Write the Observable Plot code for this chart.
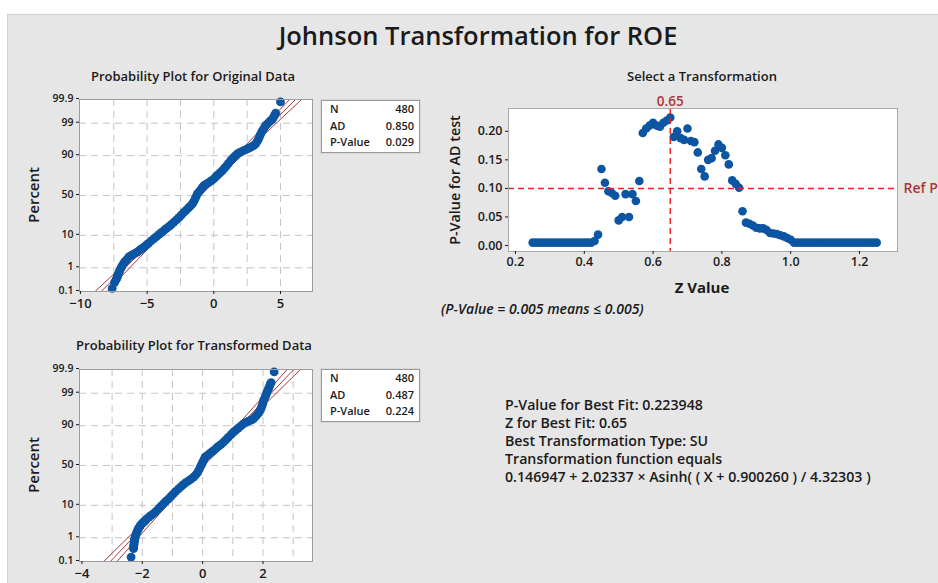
<!DOCTYPE html>
<html><head><meta charset="utf-8">
<script src="https://cdn.jsdelivr.net/npm/d3@7"></script>
<script src="https://cdn.jsdelivr.net/npm/@observablehq/plot@0.6"></script>
<style>
html,body{margin:0;padding:0;background:#fff;}
#root{position:relative;width:938px;height:583px;overflow:hidden;font-family:"Open Sans",sans-serif;color:#1a1a1a;}
#panel{position:absolute;left:7px;top:14px;width:960px;height:600px;background:#e6e6e6;border-top:1px solid #cfcfcf;border-left:1px solid #d4d4d4;}
.abs{position:absolute;white-space:nowrap;line-height:1;}
.ctr{transform:translate(-50%,-50%);}
.rot{transform:translate(-50%,-50%) rotate(-90deg);}
.box{position:absolute;background:#fff;border:1px solid #9a9a9a;box-shadow:0 0 0 1px #d8d8d8;font-size:11px;font-weight:600;line-height:1;}
.box .row{position:absolute;left:8px;right:5px;display:flex;justify-content:space-between;}
svg{position:absolute;overflow:visible;}
</style></head>
<body><div id="root"><div id="panel"></div></div>
<script>
// ---------- data ----------
const mainTitle = "Johnson Transformation for ROE";
const tickPct = [0.1, 1, 10, 50, 90, 99, 99.9];
const tickPctLabels = ["0.1", "1", "10", "50", "90", "99", "99.9"];

// Probability plot, original data (value, percent) read along the plotted band
const origX =   [-7.62,-7.45,-7.35,-7.29,-7.24,-7.20,-7.15,-7.11,-7.05,-7.00,-6.93,-6.86,-6.76,-6.65,-6.50,-6.37,-6.20,-6.05,-5.90,-5.74,-5.62,-5.50,-5.37,-5.24,-5.07,-4.90,-4.70,-4.49,-4.30,-4.10,-3.92,-3.74,-3.55,-3.35,-3.17,-2.99,-2.80,-2.60,-2.42,-2.24,-2.07,-1.90,-1.75,-1.61,-1.52,-1.42,-1.33,-1.24,-1.12,-1.00,-0.87,-0.74,-0.55,-0.35,-0.17,0.01,0.16,0.32,0.48,0.64,0.80,0.95,1.10,1.26,1.38,1.50,1.63,1.76,1.93,2.10,2.30,2.51,2.68,2.85,3.00,3.14,3.25,3.35,3.43,3.51,3.60,3.70,3.80,3.89,4.02,4.15,4.27,4.39,4.48,4.55,4.64,5.00];
const origPct = [0.14,0.25,0.32,0.37,0.44,0.50,0.58,0.68,0.78,0.90,1.05,1.2,1.45,1.7,2.0,2.4,2.65,2.9,3.15,3.4,3.75,4.1,4.45,4.8,5.5,6.2,7.2,8.2,9.3,10.5,11.7,13,14.5,16,17.7,19.5,21.7,24,26.7,29.5,32,34.5,37,39.4,42,45,48.5,52,54.5,57,60,62.6,64.5,66.5,68.5,70.5,72.8,75,77,78.9,81,83,85,87,88,89,90,91,91.6,92.2,92.8,93.3,93.7,94.2,94.7,95.2,95.9,96.5,97.1,97.6,98.0,98.3,98.6,98.8,98.95,99.1,99.2,99.3,99.42,99.5,99.6,99.87];
const origFit   = [-8.45,-6.65,-4.18,-1.16,1.86,4.33,6.13];
const origLower = [-8.90,-7.00,-4.40,-1.31,1.64,3.98,5.68];
const origUpper = [-8.00,-6.30,-3.96,-1.01,2.08,4.68,6.58];
const origStats = ["480", "0.850", "0.029"];

// Probability plot, transformed data (value, percent)
const transX =   [-2.37,-2.29,-2.285,-2.28,-2.275,-2.27,-2.26,-2.25,-2.245,-2.24,-2.22,-2.20,-2.18,-2.16,-2.13,-2.09,-2.06,-2.02,-1.97,-1.93,-1.89,-1.85,-1.78,-1.71,-1.64,-1.57,-1.50,-1.43,-1.37,-1.30,-1.22,-1.13,-1.05,-0.97,-0.89,-0.80,-0.72,-0.64,-0.56,-0.47,-0.39,-0.30,-0.23,-0.17,-0.12,-0.08,-0.04,0.00,0.04,0.08,0.15,0.22,0.29,0.36,0.44,0.52,0.61,0.69,0.77,0.85,0.94,1.02,1.10,1.18,1.27,1.35,1.44,1.52,1.60,1.68,1.74,1.80,1.86,1.91,1.94,1.97,2.00,2.02,2.05,2.08,2.11,2.13,2.16,2.19,2.22,2.24,2.27,2.37];
const transPct = [0.16,0.37,0.44,0.50,0.57,0.65,0.75,0.85,0.95,1.05,1.2,1.4,1.6,1.8,2.1,2.4,2.7,3.0,3.3,3.6,3.95,4.3,4.85,5.4,6.0,6.7,7.6,8.6,9.7,10.9,12.5,14.2,16.1,18.1,20.3,22.5,24.7,27,29,31,33.1,35.3,38,41,44.5,48,51,54,57.3,60.5,62.5,64.5,66.5,68.5,70.8,73,75.2,77.3,79.6,81.8,83.9,85.8,87.3,88.6,89.9,91,91.7,92.3,92.8,93.3,94.1,94.8,95.5,96.2,96.8,97.3,97.8,98.2,98.45,98.7,98.9,99.1,99.25,99.35,99.48,99.57,99.62,99.87];
const transFit   = [-3.06,-2.31,-1.28,-0.02,1.24,2.27,3.02];
const transLower = [-3.28,-2.48,-1.38,-0.09,1.14,2.10,2.80];
const transUpper = [-2.84,-2.14,-1.18,0.05,1.34,2.44,3.24];
const transStats = ["480", "0.487", "0.224"];
const statLabels = ["N", "AD", "P-Value"];

// Select a transformation
const zValues = [0.25,0.26,0.27,0.28,0.29,0.30,0.31,0.32,0.33,0.34,0.35,0.36,0.37,0.38,0.39,0.40,0.41,0.42,0.43,0.44,0.45,0.46,0.47,0.48,0.49,0.50,0.51,0.52,0.53,0.54,0.55,0.56,0.57,0.58,0.59,0.60,0.61,0.62,0.63,0.64,0.65,0.66,0.67,0.68,0.69,0.70,0.71,0.72,0.73,0.74,0.75,0.76,0.77,0.78,0.79,0.80,0.81,0.82,0.83,0.84,0.85,0.86,0.87,0.88,0.89,0.90,0.91,0.92,0.93,0.94,0.95,0.96,0.97,0.98,0.99,1.00,1.01,1.02,1.03,1.04,1.05,1.06,1.07,1.08,1.09,1.10,1.11,1.12,1.13,1.14,1.15,1.16,1.17,1.18,1.19,1.20,1.21,1.22,1.23,1.24,1.25];
const pValues = [0.005,0.005,0.005,0.005,0.005,0.005,0.005,0.005,0.005,0.005,0.005,0.005,0.005,0.005,0.005,0.005,0.005,0.005,0.008,0.019,0.134,0.110,0.095,0.092,0.087,0.044,0.050,0.090,0.050,0.090,0.078,0.113,0.197,0.205,0.210,0.215,0.210,0.208,0.215,0.219,0.224,0.190,0.200,0.188,0.185,0.205,0.183,0.181,0.163,0.134,0.121,0.150,0.153,0.166,0.177,0.171,0.158,0.142,0.114,0.108,0.101,0.060,0.040,0.038,0.035,0.031,0.030,0.030,0.027,0.022,0.021,0.020,0.018,0.016,0.013,0.010,0.005,0.005,0.005,0.005,0.005,0.005,0.005,0.005,0.005,0.005,0.005,0.005,0.005,0.005,0.005,0.005,0.005,0.005,0.005,0.005,0.005,0.005,0.005,0.005,0.005];
const bestZ = 0.65;
const refP = 0.10;
const resultLines = [
  "P-Value for Best Fit: 0.223948",
  "Z for Best Fit: 0.65",
  "Best Transformation Type: SU",
  "Transformation function equals",
  "0.146947 + 2.02337 \u00d7 Asinh( ( X + 0.900260 ) / 4.32303 )"
];

// ---------- helpers ----------
function probit(p){
  const a=[-3.969683028665376e+01,2.209460984245205e+02,-2.759285104469687e+02,1.383577518672690e+02,-3.066479806614716e+01,2.506628277459239e+00];
  const b=[-5.447609879822406e+01,1.615858368580409e+02,-1.556989798598866e+02,6.680131188771972e+01,-1.328068155288572e+01];
  const c=[-7.784894002430293e-03,-3.223964580411365e-01,-2.400758277161838e+00,-2.549732539343734e+00,4.374664141464968e+00,2.938163982698783e+00];
  const d=[7.784695709041462e-03,3.224671290700398e-01,2.445134137142996e+00,3.754408661907416e+00];
  const pl=0.02425, ph=1-pl; let q,r;
  if(p<pl){q=Math.sqrt(-2*Math.log(p));return (((((c[0]*q+c[1])*q+c[2])*q+c[3])*q+c[4])*q+c[5])/((((d[0]*q+d[1])*q+d[2])*q+d[3])*q+1);}
  if(p<=ph){q=p-0.5;r=q*q;return (((((a[0]*r+a[1])*r+a[2])*r+a[3])*r+a[4])*r+a[5])*q/(((((b[0]*r+b[1])*r+b[2])*r+b[3])*r+b[4])*r+1);}
  q=Math.sqrt(-2*Math.log(1-p));return -(((((c[0]*q+c[1])*q+c[2])*q+c[3])*q+c[4])*q+c[5])/((((d[0]*q+d[1])*q+d[2])*q+d[3])*q+1);
}
const zp = pct => probit(pct/100);
const root = document.getElementById("root");
function addText(txt, x, y, cls, style){
  const el = document.createElement("div");
  el.className = "abs " + (cls||"");
  el.textContent = txt;
  el.style.left = x+"px"; el.style.top = y+"px";
  Object.assign(el.style, style||{});
  root.appendChild(el); return el;
}
function place(svg, left, top){ svg.style.left = left+"px"; svg.style.top = top+"px"; root.appendChild(svg); }
const FONT = "'Open Sans', sans-serif";
const BLUE = "#0b55a3";
const DKRED = "#a83838";

function probPlot({xs, pcts, fit, lo, hi, xDomain, xTicks, gridXs, height, marginBottom}){
  const pts = xs.map((x,i)=>({x, z: zp(pcts[i])}));
  const line = arr => tickPct.map((p,i)=>({x: arr[i], z: zp(p)}));
  const zt = tickPct.map(zp);
  const lab = new Map(zt.map((z,i)=>[z.toFixed(5), tickPctLabels[i]]));
  return Plot.plot({
    width: 320, height, marginLeft: 79, marginRight: 8, marginTop: 39, marginBottom,
    style: {background: "transparent", fontFamily: FONT, color: "#1a1a1a", overflow: "visible"},
    x: {domain: xDomain},
    y: {domain: [zp(0.1), zp(99.9)]},
    marks: [
      Plot.frame({fill: "white"}),
      Plot.gridX(gridXs, {stroke: "#c4c4c4", strokeOpacity: 1, strokeDasharray: "7,5"}),
      Plot.gridY(zt.slice(1, -1), {stroke: "#c4c4c4", strokeOpacity: 1, strokeDasharray: "7,5"}),
      Plot.line(line(lo), {x: "x", y: "z", stroke: DKRED, strokeWidth: 1, clip: true}),
      Plot.line(line(fit), {x: "x", y: "z", stroke: DKRED, strokeWidth: 1, clip: true}),
      Plot.line(line(hi), {x: "x", y: "z", stroke: DKRED, strokeWidth: 1, clip: true}),
      Plot.dot(pts, {x: "x", y: "z", r: 4.4, fill: BLUE, stroke: null}),
      Plot.frame({stroke: "#9c9c9c"}),
      Plot.axisX(xTicks, {tickSize: 3, tickPadding: 4, fontSize: 13, fontWeight: 600, label: null}),
      Plot.axisY(zt, {tickSize: 3, tickPadding: 3, fontSize: 10.5, fontWeight: 600, dy: -1, tickFormat: z => lab.get(z.toFixed(5)), label: null})
    ]
  });
}

function statsBox(vals, left, top){
  const b = document.createElement("div");
  b.className = "box";
  b.style.left = left+"px"; b.style.top = top+"px"; b.style.width = "97px"; b.style.height = "51px";
  statLabels.forEach((l,i)=>{
    const r = document.createElement("div"); r.className = "row";
    r.style.top = (2 + i*16.5)+"px";
    r.innerHTML = `<span>${l}</span><span>${vals[i]}</span>`;
    b.appendChild(r);
  });
  root.appendChild(b);
}

// ---------- title ----------
addText(mainTitle, 478, 36, "ctr", {fontSize: "25.5px", fontWeight: "600"});

// ---------- original data plot ----------
addText("Probability Plot for Original Data", 193, 76, "ctr", {fontSize: "13px", fontWeight: "600"});
place(probPlot({xs: origX, pcts: origPct, fit: origFit, lo: origLower, hi: origUpper,
  xDomain: [-10.07, 7.4], xTicks: [-10, -5, 0, 5], gridXs: [-7.5, -5, -2.5, 0, 2.5, 5],
  height: 250, marginBottom: 19}), 0, 60);
addText("Percent", 33, 195, "rot", {fontSize: "15px", fontWeight: "600"});
statsBox(origStats, 321, 100);

// ---------- transformed data plot ----------
addText("Probability Plot for Transformed Data", 194, 345, "ctr", {fontSize: "13px", fontWeight: "600"});
place(probPlot({xs: transX, pcts: transPct, fit: transFit, lo: transLower, hi: transUpper,
  xDomain: [-4.08, 3.64], xTicks: [-4, -2, 0, 2], gridXs: [-3, -2, -1, 0, 1, 2, 3],
  height: 253, marginBottom: 22}), 0, 330);
addText("Percent", 33, 465, "rot", {fontSize: "15px", fontWeight: "600"});
statsBox(transStats, 321, 369);

// ---------- select a transformation ----------
addText("Select a Transformation", 702, 76, "ctr", {fontSize: "13px", fontWeight: "600"});
const sel = zValues.map((z,i)=>({z, p: pValues[i]}));
const selPlot = Plot.plot({
  width: 508, height: 260, marginLeft: 78, marginRight: 41, marginTop: 48, marginBottom: 69,
  style: {background: "transparent", fontFamily: FONT, color: "#1a1a1a", overflow: "visible"},
  x: {domain: [0.1797, 1.3105]},
  y: {domain: [-0.0105, 0.2399]},
  marks: [
    Plot.frame({fill: "white"}),
    Plot.dot(sel, {x: "z", y: "p", r: 4.3, fill: BLUE, stroke: null}),
    Plot.ruleY([refP], {stroke: "#e82424", strokeWidth: 1.5, strokeDasharray: "6,4"}),
    Plot.ruleX([bestZ], {stroke: "#e82424", strokeWidth: 1.5, strokeDasharray: "6,4"}),
    Plot.text([bestZ], {x: d => d, frameAnchor: "top", dy: -12, text: d => d.toFixed(2), fill: DKRED, fontSize: 13.5, fontWeight: 600}),
    Plot.text([refP], {y: d => d, frameAnchor: "right", dx: 6, textAnchor: "start", text: () => "Ref P", fill: DKRED, fontSize: 14, fontWeight: 600}),
    Plot.frame({stroke: "#a8a8a8"}),
    Plot.axisX([0.2, 0.4, 0.6, 0.8, 1.0, 1.2], {tickSize: 3, tickPadding: 3, fontSize: 12.5, fontWeight: 600, tickFormat: d3.format(".1f"), label: null}),
    Plot.axisY([0, 0.05, 0.10, 0.15, 0.20], {tickSize: 3, tickPadding: 3, fontSize: 12.5, fontWeight: 600, tickFormat: d3.format(".2f"), label: null})
  ]
});
place(selPlot, 430, 60);
addText("Z Value", 702, 287, "ctr", {fontSize: "15px", fontWeight: "700"});
addText("P-Value for AD test", 455, 180, "rot", {fontSize: "14.3px", fontWeight: "600"});
addText("(P-Value = 0.005 means \u2264 0.005)", 441, 302, "", {fontSize: "14px", fontStyle: "italic", fontWeight: "600"});

// ---------- results text ----------
resultLines.forEach((t,i)=> addText(t, 505, 398 + i*18, "", {fontSize: "14.2px", fontWeight: "600"}));
</script>
</body></html>
